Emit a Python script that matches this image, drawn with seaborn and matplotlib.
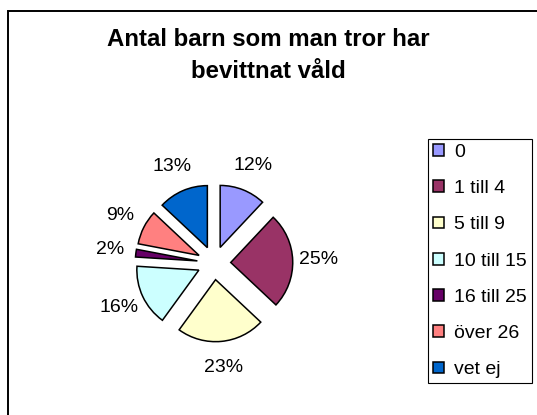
# plot.py
# Exploded pie chart: "Antal barn som man tror har bevittnat våld"
# Saved as out.png at 537x415 px.

import matplotlib
matplotlib.use("Agg")
import matplotlib.pyplot as plt
from matplotlib.patches import Rectangle
import seaborn as sns

# Data (percent)
categories = ["0", "1 till 4", "5 till 9", "10 till 15", "16 till 25", "över 26", "vet ej"]
shares = [12, 25, 23, 16, 2, 9, 13]
slice_colors = ["#9999FF", "#993366", "#FFFFCC", "#CCFFFF", "#660066", "#FF8080", "#0066CC"]
title_text = "Antal barn som man tror har\nbevittnat våld"


def main():
    sns.set_theme(style="white")
    plt.rcParams["font.family"] = ["Liberation Sans", "DejaVu Sans"]
    plt.rcParams["text.color"] = "black"

    W, H = 537, 415
    fig = plt.figure(figsize=(W / 100, H / 100), dpi=100)
    fig.patch.set_facecolor("white")

    # Pie axes: centre at (214, 263) px, radius 62 px
    radius_px = 62
    lim = 2.5
    side = 2 * lim * radius_px
    cx, cy = 214, 263
    ax = fig.add_axes([(cx - side / 2) / W, (H - cy - side / 2) / H, side / W, side / H])

    palette = sns.color_palette(slice_colors)
    wedges, texts, autotexts = ax.pie(
        shares,
        colors=palette,
        startangle=90,
        counterclock=False,
        explode=[0.27] * len(shares),
        autopct="%1.0f%%",
        pctdistance=1.42,
        wedgeprops=dict(edgecolor="black", linewidth=1.1),
        textprops=dict(fontsize=14, color="black"),
    )
    ax.set_xlim(-lim, lim)
    ax.set_ylim(-lim, lim)
    ax.set_aspect("equal")
    ax.axis("off")

    # Title
    fig.text(268 / W, 1 - 78 / H, title_text, ha="center", va="baseline",
             fontsize=17.3, fontweight="bold", linespacing=1.5, color="black")

    # Legend on the right
    leg = fig.legend(wedges, categories, loc="upper left",
                     bbox_to_anchor=(428 / W, 1 - 139 / H),
                     frameon=True, fancybox=False, shadow=False,
                     edgecolor="black", framealpha=1, fontsize=14,
                     handlelength=0.55, handleheight=0.55,
                     handletextpad=0.55, labelspacing=0.99,
                     borderpad=0.25, borderaxespad=0)
    leg.get_frame().set_linewidth(0.8)
    for t in leg.get_texts():
        t.set_color("black")

    # Chart border (only left and top edges fall inside the image)
    fig.add_artist(Rectangle((8 / W, -0.1), 1.2, 1 - 11 / H + 0.1,
                             transform=fig.transFigure, fill=False,
                             edgecolor="black", linewidth=1.4))

    fig.savefig("out.png", dpi=100)


if __name__ == "__main__":
    main()
